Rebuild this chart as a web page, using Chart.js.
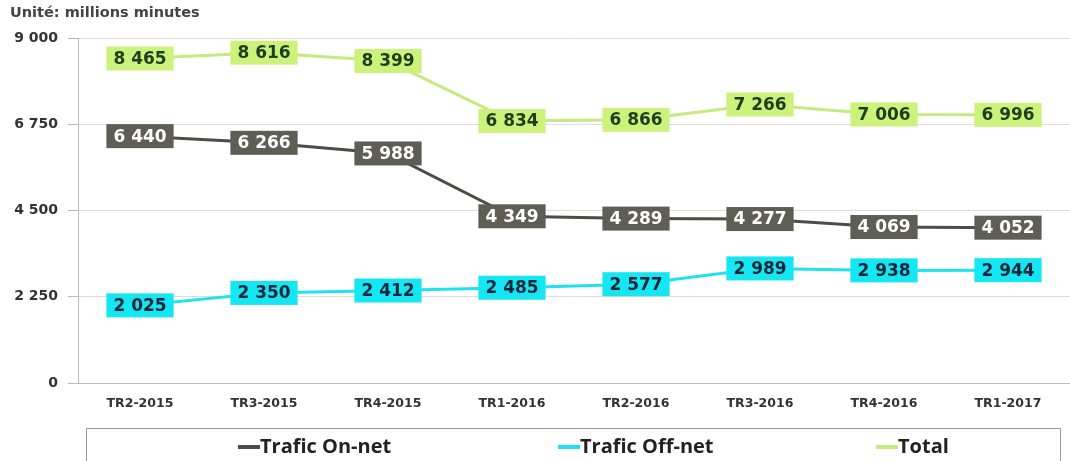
<!DOCTYPE html>
<html>
<head>
<meta charset="utf-8">
<script src="https://cdn.jsdelivr.net/npm/chart.js@4.4.0/dist/chart.umd.min.js"></script>
<style>
  html, body { margin: 0; padding: 0; background: #fff; }
  #wrap { position: relative; width: 1070px; height: 461px; }
  #unit { position: absolute; left: 10px; top: 4px; font: bold 14.5px "DejaVu Sans", sans-serif; color: #444; }
</style>
</head>
<body>
<div id="wrap">
  <div id="unit">Unité: millions minutes</div>
  <canvas id="chart" width="1070" height="461"></canvas>
</div>
<script>
// ---------- data ----------
const quarters = ['TR2-2015', 'TR3-2015', 'TR4-2015', 'TR1-2016', 'TR2-2016', 'TR3-2016', 'TR4-2016', 'TR1-2017'];
const onNet = [6440, 6266, 5988, 4349, 4289, 4277, 4069, 4052];
const offNet = [2025, 2350, 2412, 2485, 2577, 2989, 2938, 2944];
const total = [8465, 8616, 8399, 6834, 6866, 7266, 7006, 6996];
const yTicks = [0, 2250, 4500, 6750, 9000];

function fmt(n) {
  return String(n).replace(/\B(?=(\d{3})+(?!\d))/g, ' ');
}

// label boxes on each point
const boxLabels = {
  id: 'boxLabels',
  afterDatasetsDraw(chart) {
    const ctx = chart.ctx;
    ctx.save();
    ctx.font = 'bold 17px "DejaVu Sans", sans-serif';
    ctx.textAlign = 'center';
    ctx.textBaseline = 'middle';
    chart.data.datasets.forEach((ds, i) => {
      const meta = chart.getDatasetMeta(i);
      meta.data.forEach((pt, j) => {
        const txt = fmt(ds.data[j]);
        const w = ctx.measureText(txt).width + 14;
        const h = 24;
        ctx.fillStyle = ds.boxColor;
        ctx.fillRect(pt.x - w / 2, pt.y - h / 2, w, h);
        ctx.fillStyle = ds.textColor;
        ctx.fillText(txt, pt.x, pt.y + 1);
      });
    });
    ctx.restore();
  }
};

// legend drawn in a framed box, items spread out
const boxLegend = {
  id: 'boxLegend',
  afterDraw(chart) {
    const ctx = chart.ctx;
    ctx.save();
    ctx.strokeStyle = '#9a9a9a';
    ctx.lineWidth = 1;
    ctx.strokeRect(86.5, 428.5, 974, 40);
    const xs = [238, 558, 876];
    ctx.font = 'bold 20px "Open Sans", sans-serif';
    ctx.textBaseline = 'middle';
    chart.data.datasets.forEach((ds, i) => {
      const y = 447;
      ctx.strokeStyle = ds.borderColor;
      ctx.lineWidth = 4;
      ctx.beginPath();
      ctx.moveTo(xs[i], y);
      ctx.lineTo(xs[i] + 22, y);
      ctx.stroke();
      ctx.fillStyle = '#222';
      ctx.fillText(ds.label, xs[i] + 22, y);
    });
    ctx.restore();
  }
};

new Chart(document.getElementById('chart'), {
  type: 'line',
  data: {
    labels: quarters,
    datasets: [
      { label: 'Trafic On-net', data: onNet, borderColor: '#4c4c48', boxColor: '#5e5e55', textColor: '#ffffff' },
      { label: 'Trafic Off-net', data: offNet, borderColor: '#1ee3ef', boxColor: '#14e6f2', textColor: '#10253a' },
      { label: 'Total', data: total, borderColor: '#c6ea80', boxColor: '#cdf27c', textColor: '#1f3d1f' }
    ].map(d => Object.assign(d, { borderWidth: 3, pointRadius: 0, tension: 0, fill: false }))
  },
  options: {
    responsive: false,
    animation: false,
    layout: { padding: { top: 38, right: 0, bottom: 37, left: 0 } },
    plugins: {
      legend: { display: false },
      tooltip: { enabled: false }
    },
    scales: {
      x: {
        offset: true,
        grid: { display: false, drawTicks: false },
        border: { color: '#bbbbbb' },
        ticks: { color: '#333', font: { family: '"DejaVu Sans", sans-serif', weight: 'bold', size: 12.5 }, padding: 13, maxRotation: 0 }
      },
      y: {
        min: 0,
        max: 9000,
        afterBuildTicks(axis) { axis.ticks = yTicks.map(v => ({ value: v })); },
        afterFit(axis) { axis.width = 78; },
        grid: { color: '#dddddd', tickLength: 10, tickColor: '#bbbbbb' },
        border: { color: '#bbbbbb' },
        ticks: {
          color: '#333',
          font: { family: '"DejaVu Sans", sans-serif', weight: 'bold', size: 14 },
          padding: 10,
          callback: v => fmt(v)
        }
      }
    }
  },
  plugins: [boxLabels, boxLegend]
});
</script>
</body>
</html>
